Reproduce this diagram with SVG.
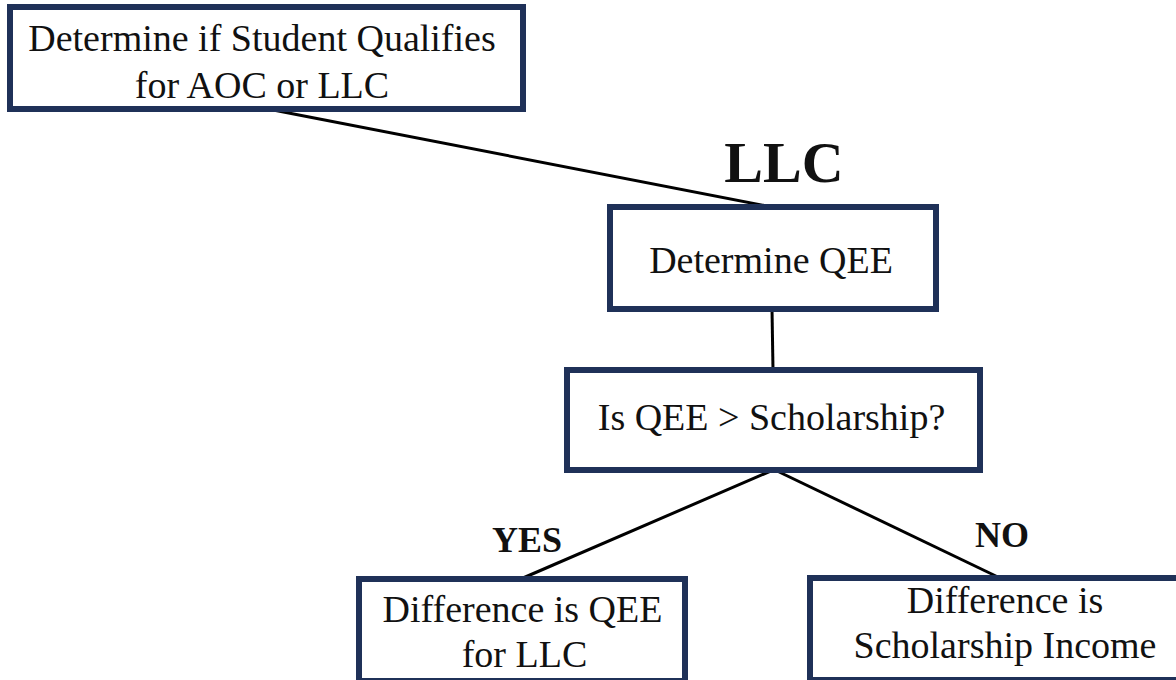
<svg xmlns="http://www.w3.org/2000/svg" width="1176" height="680" viewBox="0 0 1176 680">
<style>
.box{fill:#ffffff;stroke:#1f3158;stroke-width:6}
.t{font-family:'Liberation Serif','Times New Roman',serif;font-size:38px;fill:#111;text-anchor:middle}
.b{font-family:'Liberation Serif','Times New Roman',serif;font-weight:bold;fill:#111;text-anchor:middle}
.c{stroke:#000;stroke-width:3;fill:none}
</style>
<rect width="1176" height="680" fill="#ffffff"/>
<g id="connectors">
<line class="c" x1="268" y1="109" x2="772" y2="207"/>
<line class="c" x1="772" y1="309" x2="773" y2="370"/>
<line class="c" x1="773" y1="470" x2="523" y2="578"/>
<line class="c" x1="775" y1="470" x2="1000" y2="578"/>
</g>
<g id="n1">
<rect class="box" x="10" y="7" width="513" height="102"/>
<text class="t" x="262" y="51">Determine if Student Qualifies</text>
<text class="t" x="262" y="98">for AOC or LLC</text>
</g>
<g id="label-llc">
<text class="b" x="784" y="182" font-size="58">LLC</text>
</g>
<g id="n2">
<rect class="box" x="610" y="207" width="326" height="102"/>
<text class="t" x="771" y="273">Determine QEE</text>
</g>
<g id="n3">
<rect class="box" x="567" y="370" width="413" height="100"/>
<text class="t" x="771.5" y="430">Is QEE &gt; Scholarship?</text>
</g>
<g id="label-yes">
<text class="b" x="527" y="552" font-size="36">YES</text>
</g>
<g id="label-no">
<text class="b" x="1002" y="547" font-size="36">NO</text>
</g>
<g id="n4">
<rect class="box" x="359" y="579" width="326" height="102"/>
<text class="t" x="522.5" y="622">Difference is QEE</text>
<text class="t" x="524.5" y="667">for LLC</text>
</g>
<g id="n5">
<rect class="box" x="810" y="578" width="400" height="102"/>
<text class="t" x="1005" y="613">Difference is</text>
<text class="t" x="1005" y="658">Scholarship Income</text>
</g>
</svg>
